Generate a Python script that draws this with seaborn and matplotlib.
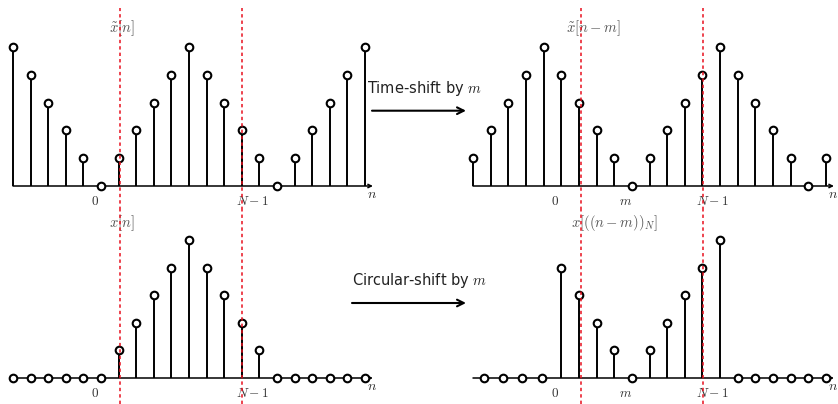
import matplotlib
matplotlib.use("Agg")
import matplotlib.pyplot as plt
import seaborn as sns
import pandas as pd

# ---------------- data ----------------
k_idx = list(range(21))
x_periodic = [5, 4, 3, 2, 1, 0, 1, 2, 3, 4, 5, 4, 3, 2, 1, 0, 1, 2, 3, 4, 5]
x_periodic_shift = [1, 2, 3, 4, 5, 4, 3, 2, 1, 0, 1, 2, 3, 4, 5, 4, 3, 2, 1, 0, 1]
x_finite = [0, 0, 0, 0, 0, 0, 1, 2, 3, 4, 5, 4, 3, 2, 1, 0, 0, 0, 0, 0, 0]
k_circ = [0.62, 1.70, 2.78, 3.92, 5, 6, 7, 8, 9, 10, 11, 12, 13, 14,
          15, 16, 17, 18, 19, 20]
x_circ = [0, 0, 0, 0, 4, 3, 2, 1, 0, 1, 2, 3, 4, 5, 0, 0, 0, 0, 0, 0]

titles = [r"$\tilde{x}[n]$", r"$\tilde{x}[n-m]$", r"$x[n]$", r"$x[((n-m))_N]$"]
ticks_left = [(5, r"$0$"), (14, r"$N-1$")]
ticks_right = [(5, r"$0$"), (9, r"$m$"), (14, r"$N-1$")]
red_lines = [6.1, 13.03]
arrow_texts = ["Time-shift by $m$", "Circular-shift by $m$"]

# ---------------- style ----------------
sns.set_style("white")
plt.rcParams["font.family"] = ["DejaVu Sans"]
plt.rcParams["mathtext.fontset"] = "cm"

W, H = 838, 404
fig = plt.figure(figsize=(W / 100, H / 100), dpi=100)


def px_axes(x0, y0, x1, y1):
    return fig.add_axes([x0 / W, 1 - y1 / H, (x1 - x0) / W, (y1 - y0) / H])


def panel(ax, ks, vals, xlim, ylim, title, title_xy, ticks, tick_y):
    ax.set_xlim(*xlim)
    ax.set_ylim(*ylim)
    ax.axis("off")
    # baseline with arrow
    ax.annotate("", xy=(20.45, 0), xytext=(0, 0),
                arrowprops=dict(arrowstyle="->", lw=1.1, color="black",
                                shrinkA=0, shrinkB=0, mutation_scale=6),
                zorder=1)
    ax.text(20.38, -0.3, r"$n$", fontsize=10, color="#333333",
            ha="center", va="center")
    # stems
    sk = [k for k, v in zip(ks, vals) if v != 0]
    sv = [v for v in vals if v != 0]
    ax.vlines(sk, 0, sv, color="black", lw=1.4, zorder=2)
    df = pd.DataFrame({"k": ks, "v": vals})
    sns.scatterplot(data=df, x="k", y="v", ax=ax, s=30, color="white",
                    edgecolor="black", linewidth=1.5, zorder=3, legend=False)
    ax.set_xlabel("")
    ax.set_ylabel("")
    ax.text(title_xy[0], title_xy[1], title, fontsize=10.5, color="#555555",
            ha="center", va="center")
    for k, lab in ticks:
        off = -0.42 if lab == r"$N-1$" else -0.33
        ax.text(k + off, tick_y, lab, fontsize=9.5, color="#333333",
                ha="center", va="center")


# top-left
ax1 = px_axes(0, 0, 420, 210)
panel(ax1, k_idx, x_periodic, (-13 / 17.6, 407 / 17.6),
      ((186 - 210) / 27.8, 186 / 27.8), titles[0], (6.2, 5.68),
      ticks_left, -0.56)
# top-right
ax2 = px_axes(420, 0, 838, 210)
panel(ax2, k_idx, x_periodic_shift, (-53 / 17.65, 365 / 17.65),
      ((186 - 210) / 27.8, 186 / 27.8), titles[1], (6.8, 5.68),
      ticks_right, -0.56)
# bottom-left
ax3 = px_axes(0, 210, 420, 404)
panel(ax3, k_idx, x_finite, (-13 / 17.6, 407 / 17.6),
      ((378 - 404) / 27.6, (378 - 210) / 27.6), titles[2], (6.2, 5.62),
      ticks_left, -0.55)
# bottom-right
ax4 = px_axes(420, 210, 838, 404)
panel(ax4, k_circ, x_circ, (-53 / 17.65, 365 / 17.65),
      ((378 - 404) / 27.6, (378 - 210) / 27.6), titles[3], (8.0, 5.62),
      ticks_right, -0.55)

# red dashed guide lines (continuous through both rows)
for ax, top in [(ax1, 0.962), (ax2, 0.962), (ax3, 1.0), (ax4, 1.0)]:
    for xr in red_lines:
        ax.axvline(xr, ymin=0, ymax=top, color="#e8101e", lw=1.1,
                   linestyle=(0, (2.2, 2.0)), zorder=5)

# middle arrows with captions
fig.text(367 / W, 1 - 88 / H, arrow_texts[0], fontsize=10.5, color="#222222",
         ha="left", va="center")
fig.text(352 / W, 1 - 281 / H, arrow_texts[1], fontsize=10.5, color="#222222",
         ha="left", va="center")
for (x0, x1, y) in [(372, 466, 110.7), (352, 466, 303)]:
    ax1.annotate("", xy=(x1 / W, 1 - y / H), xytext=(x0 / W, 1 - y / H),
                 xycoords="figure fraction", textcoords="figure fraction",
                 arrowprops=dict(arrowstyle="->", lw=1.5, color="black",
                                 shrinkA=0, shrinkB=0, mutation_scale=12))

fig.savefig("out.png", dpi=100)
